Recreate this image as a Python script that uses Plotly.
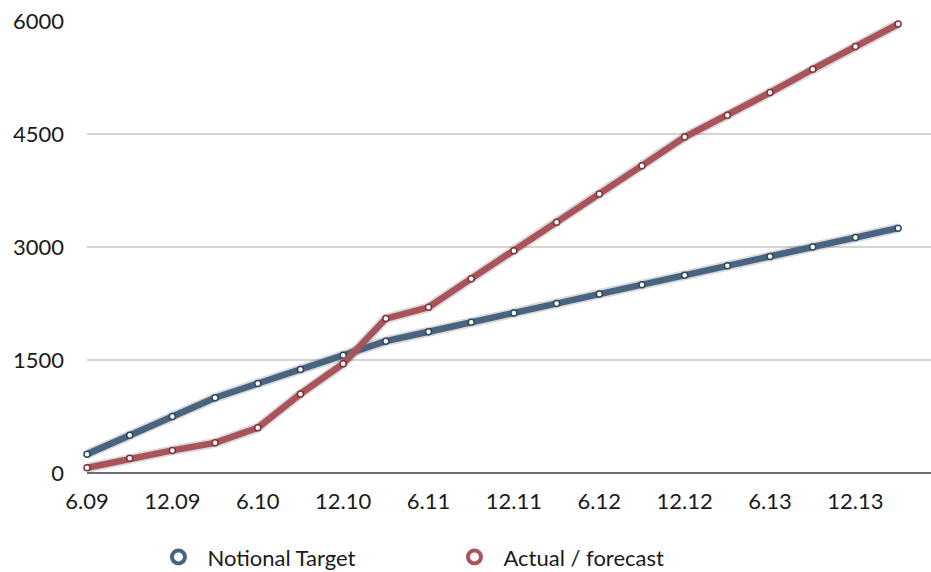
import plotly.graph_objects as go

# Quarterly periods (month.year)
quarters = ["6.09", "9.09", "12.09", "3.10", "6.10", "9.10", "12.10", "3.11",
            "6.11", "9.11", "12.11", "3.12", "6.12", "9.12", "12.12", "3.13",
            "6.13", "9.13", "12.13", "3.14"]
tick_labels = quarters[::2]

notional_target = [250, 500, 750, 1000, 1188, 1375, 1563, 1750, 1875, 2000,
                   2125, 2250, 2375, 2500, 2625, 2750, 2875, 3000, 3125, 3250]
actual_forecast = [70, 195, 300, 400, 600, 1050, 1450, 2050, 2200, 2580,
                   2950, 3330, 3705, 4080, 4460, 4750, 5050, 5360, 5660, 5960]

y_ticks = [0, 1500, 3000, 4500, 6000]

BLUE = "#48647F"
RED = "#A8545A"
FONT = "Lato"

fig = go.Figure()

series = [("Notional Target", notional_target, BLUE, "#2F465E"),
          ("Actual / forecast", actual_forecast, RED, "#7E3439")]

# soft shadow under each line
for name, vals, col, dark in series:
    fig.add_trace(go.Scatter(
        x=quarters, y=vals, mode="lines",
        line=dict(color="rgba(0,0,0,0.15)", width=10),
        hoverinfo="skip", showlegend=False, cliponaxis=False))

for name, vals, col, dark in series:
    fig.add_trace(go.Scatter(
        x=quarters, y=vals, mode="lines+markers", name=name,
        line=dict(color=col, width=6.5),
        marker=dict(symbol="circle", size=6, color="white",
                    line=dict(color=dark, width=1.5)),
        showlegend=False, cliponaxis=False))

# legend entries: open ring markers
for name, vals, col, dark in series:
    fig.add_trace(go.Scatter(
        x=[None], y=[None], mode="markers", name=name,
        marker=dict(symbol="circle-open", size=13, color=col,
                    line=dict(color=col, width=4))))

fig.update_layout(
    width=931, height=572,
    margin=dict(l=87, r=0, t=21, b=99, autoexpand=False),
    paper_bgcolor="white", plot_bgcolor="white",
    font=dict(family=FONT, size=22, color="#1a1a1a"),
    xaxis=dict(
        type="category", categoryorder="array", categoryarray=quarters,
        range=[0, 19.77], automargin=False,
        tickmode="array", tickvals=tick_labels, ticktext=tick_labels,
        showgrid=False, zeroline=False, showline=False,
        ticks="", ticklabelstandoff=13,
        tickfont=dict(family=FONT, size=22, color="#1a1a1a")),
    yaxis=dict(
        range=[0, 6000], tickmode="array", tickvals=y_ticks, automargin=False,
        showgrid=True, gridcolor="#D4D4D4", gridwidth=1.5,
        zeroline=True, zerolinecolor="#6E6E6E", zerolinewidth=1.5,
        showline=False, ticks="", ticklabelstandoff=22,
        tickfont=dict(family=FONT, size=22, color="#1a1a1a")),
    legend=dict(orientation="h", x=0.074, xanchor="left",
                yref="container", y=0.026, yanchor="middle",
                entrywidth=233, entrywidthmode="pixels",
                itemwidth=48,
                font=dict(family=FONT, size=22, color="#1a1a1a"),
                bgcolor="rgba(0,0,0,0)"),
    showlegend=True,
)

fig.write_html("out.html")
